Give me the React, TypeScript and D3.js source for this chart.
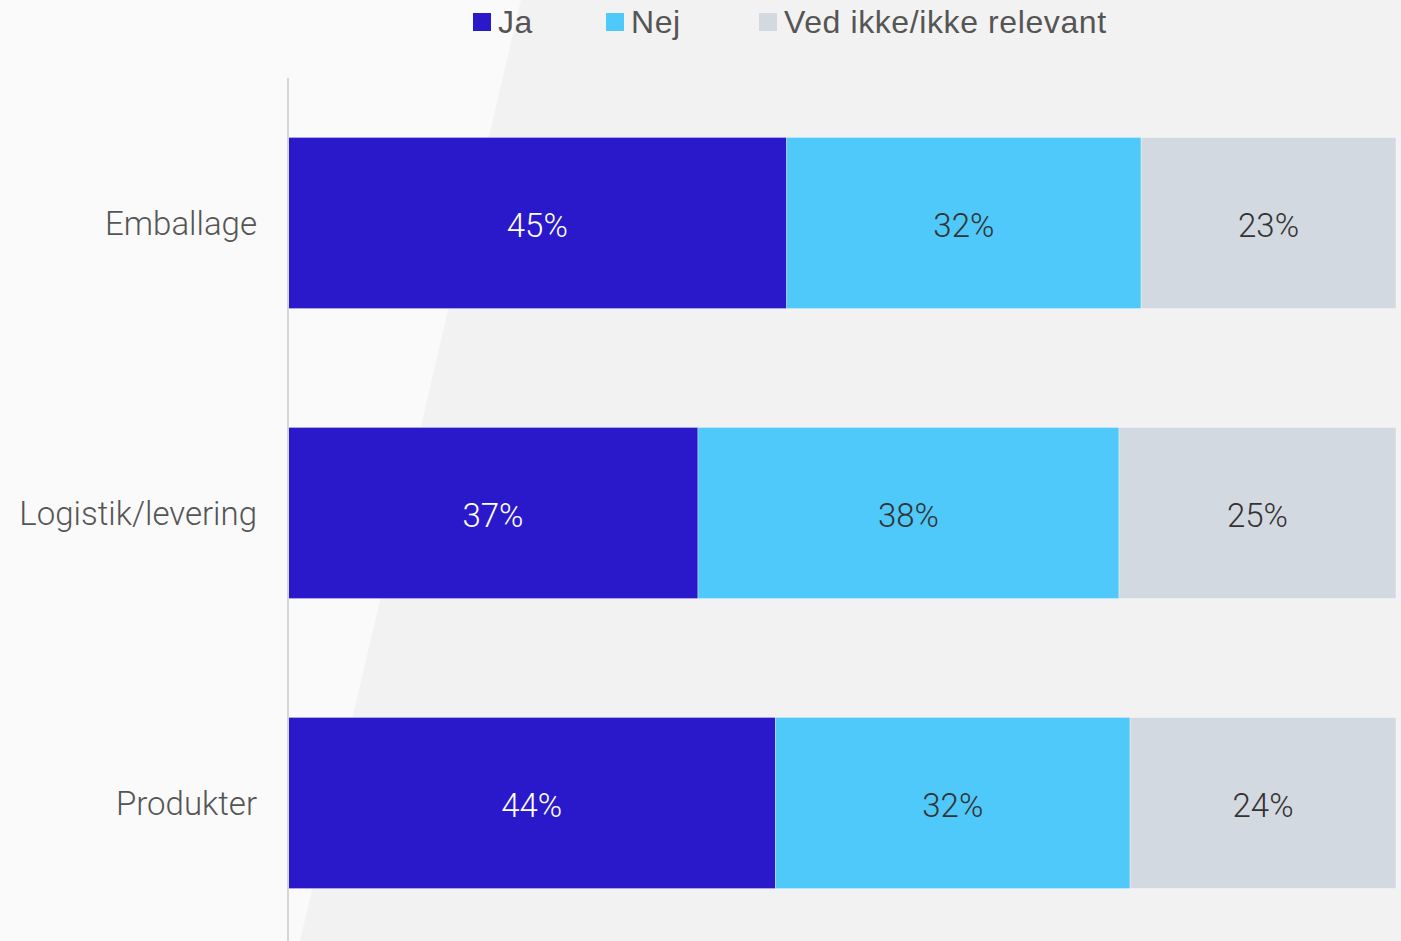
import React from "react";
import * as d3 from "d3";

const categories = ["Emballage", "Logistik/levering", "Produkter"];
const seriesNames = ["Ja", "Nej", "Ved ikke/ikke relevant"];
const jaValues = [45, 37, 44];
const nejValues = [32, 38, 32];
const vedIkkeValues = [23, 25, 24];
const seriesColors = ["#2a19ca", "#4fc9f9", "#d3d9e1"];
const labelColors = ["#ffffff", "#333333", "#333333"];

const W = 1401;
const H = 941;
const FONT = "Roboto, 'Noto Sans', sans-serif";
const LEGEND_FONT = "'Liberation Sans', Arial, sans-serif";

export default function App() {
  const x = d3.scaleLinear().domain([0, 100]).range([288, 1396]);
  const y = d3
    .scaleBand<string>()
    .domain(categories)
    .range([78, 948])
    .paddingInner(0.41)
    .paddingOuter(0.205);

  const series = [jaValues, nejValues, vedIkkeValues];
  const rows = categories.map((c, i) => {
    const r: any = { cat: c };
    seriesNames.forEach((s, k) => (r[s] = series[k][i]));
    return r;
  });
  const stacked = d3.stack<any>().keys(seriesNames)(rows);

  const legendX = [473, 606, 759];

  return (
    <svg
      width={W}
      height={H}
      style={{ position: "absolute", left: 0, top: 0, display: "block" }}
    >
      <rect x={0} y={0} width={W} height={H} fill="#fafafa" />
      <polygon points={`521,0 ${W},0 ${W},${H} 300,${H}`} fill="#f2f2f2" />

      {/* legend */}
      {seriesNames.map((s, k) => (
        <g key={s}>
          <rect x={legendX[k]} y={13} width={18} height={18} fill={seriesColors[k]} />
          <text
            x={legendX[k] + 25}
            y={33}
            fontFamily={LEGEND_FONT}
            fontSize={32}
            letterSpacing={0.6}
            fill="#555555"
          >
            {s}
          </text>
        </g>
      ))}

      {/* bars */}
      {stacked.map((layer, k) =>
        layer.map((d, i) => {
          const x0 = x(d[0]);
          const x1 = x(d[1]);
          const yy = y(categories[i])!;
          const bw = y.bandwidth();
          return (
            <g key={`${k}-${i}`}>
              <rect
                x={x0}
                y={yy}
                width={x1 - x0}
                height={bw}
                fill={seriesColors[k]}
                stroke="#ffffff"
                strokeOpacity={0.35}
                strokeWidth={1}
              />
              <text
                x={(x0 + x1) / 2}
                y={yy + bw / 2}
                dy="0.42em"
                textAnchor="middle"
                fontFamily={FONT}
                fontWeight={300}
                fontSize={33}
                fill={labelColors[k]}
              >
                {`${d[1] - d[0]}%`}
              </text>
            </g>
          );
        })
      )}

      {/* axis line */}
      <line x1={288} x2={288} y1={78} y2={H} stroke="#d6d6d6" strokeWidth={2} />

      {/* category labels */}
      {categories.map((c) => (
        <text
          key={c}
          x={257}
          y={y(c)! + y.bandwidth() / 2}
          dy="0.35em"
          textAnchor="end"
          fontFamily={FONT}
          fontWeight={300}
          fontSize={33}
          fill="#555555"
        >
          {c}
        </text>
      ))}
    </svg>
  );
}
